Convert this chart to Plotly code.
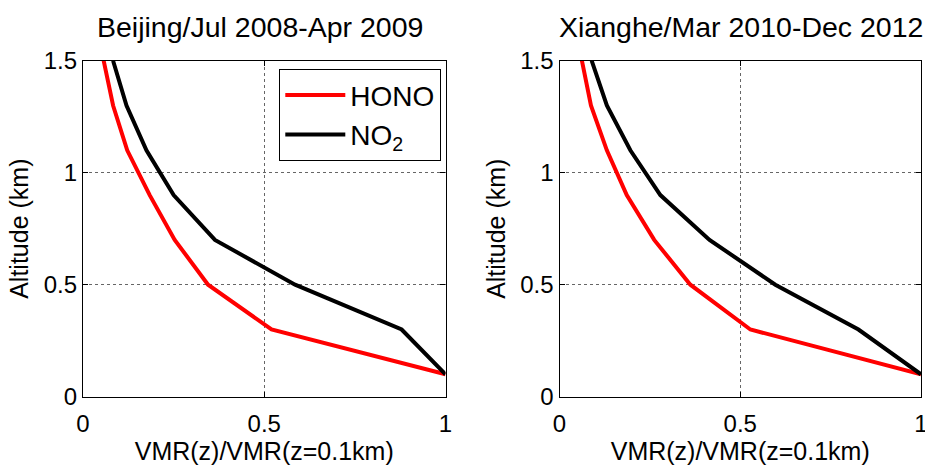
import plotly.graph_objects as go

altitude = [0.1, 0.3, 0.5, 0.7, 0.9, 1.1, 1.3, 1.5]
beijing_hono = [1.0, 0.52, 0.345, 0.253, 0.184, 0.122, 0.083, 0.057]
beijing_no2 = [1.0, 0.879, 0.585, 0.364, 0.25, 0.175, 0.12, 0.083]
xianghe_hono = [1.0, 0.528, 0.362, 0.262, 0.186, 0.131, 0.087, 0.062]
xianghe_no2 = [1.0, 0.827, 0.597, 0.415, 0.279, 0.196, 0.131, 0.089]
titles = ["Beijing/Jul 2008-Apr 2009", "Xianghe/Mar 2010-Dec 2012"]
x_ticks = [0, 0.5, 1]
y_ticks = [0, 0.5, 1, 1.5]

FONT = "Liberation Sans, Arial, sans-serif"
W, H = 925, 468
fig = go.Figure()

panels = [
    (beijing_hono, beijing_no2, "x", "y", True),
    (xianghe_hono, xianghe_no2, "x2", "y2", False),
]
for hono, no2, xa, ya, show in panels:
    fig.add_trace(go.Scatter(x=hono, y=altitude, mode="lines", name="HONO",
                             line=dict(color="#ff0000", width=4),
                             xaxis=xa, yaxis=ya, showlegend=show))
    fig.add_trace(go.Scatter(x=no2, y=altitude, mode="lines", name="NO<sub>2</sub>",
                             line=dict(color="#000000", width=4),
                             xaxis=xa, yaxis=ya, showlegend=show))


def px_x(p):
    return p / W


def px_y(p):
    return 1 - p / H


xdoms = [[px_x(83), px_x(445.5)], [px_x(559.5), px_x(921)]]
ydom = [px_y(396.7), px_y(60.7)]
title_left = [95, 557]

ax_common = dict(
    showline=True, mirror="ticks", linecolor="black", linewidth=1.3,
    ticks="inside", ticklen=5, tickcolor="black",
    showgrid=True, gridcolor="#666666", griddash="dot", gridwidth=1,
    zeroline=False, automargin=False, ticklabeloverflow="allow",
    tickfont=dict(family=FONT, size=24, color="black"),
)

layout = dict(
    width=W, height=H, margin=dict(l=0, r=0, t=0, b=0),
    paper_bgcolor="white", plot_bgcolor="white",
    font=dict(family=FONT, color="black"),
    showlegend=True,
    legend=dict(x=px_x(279), y=px_y(69), xanchor="left", yanchor="top",
                bordercolor="black", borderwidth=1.3, bgcolor="white",
                font=dict(family=FONT, size=28, color="black"),
                itemwidth=60, tracegroupgap=0),
)
for i in range(2):
    sx = "" if i == 0 else "2"
    layout["xaxis" + sx] = dict(ax_common, domain=xdoms[i], range=[0, 1],
                                tickvals=x_ticks, ticktext=["0", "0.5", "1"],
                                anchor="y" + sx, ticklabelstandoff=5,
                                title=dict(text="VMR(z)/VMR(z=0.1km)",
                                           font=dict(family=FONT, size=25), standoff=6))
    layout["yaxis" + sx] = dict(ax_common, domain=ydom, range=[0, 1.5],
                                tickvals=y_ticks, ticktext=["0", "0.5", "1", "1.5"],
                                anchor="x" + sx,
                                title=dict(text="Altitude (km)",
                                           font=dict(family=FONT, size=25), standoff=7))
fig.update_layout(**layout)

for i in range(2):
    fig.add_annotation(text=titles[i], xref="paper", yref="paper",
                       x=px_x(title_left[i]), y=px_y(27),
                       xanchor="left", yanchor="middle", showarrow=False,
                       font=dict(family=FONT, size=28.5, color="black"))

fig.write_html("out.html", config={"displayModeBar": False},
               post_script="document.body.style.margin='0';document.body.style.overflow='hidden';")
